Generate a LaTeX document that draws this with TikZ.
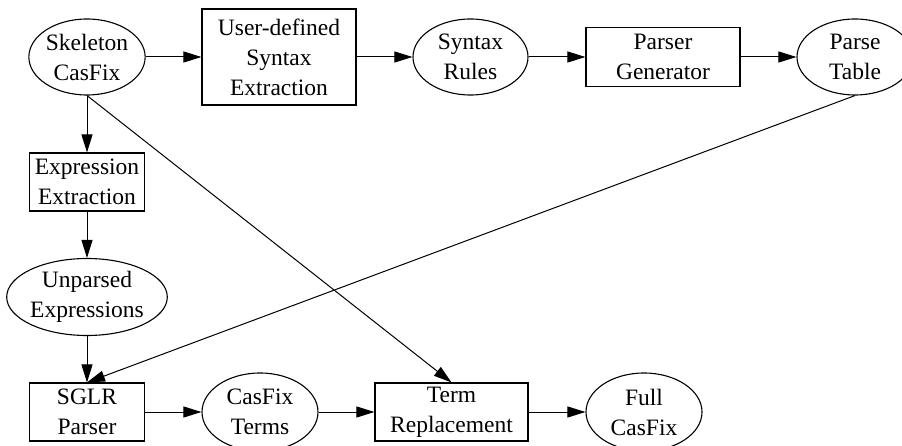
\documentclass[tikz,border=0pt]{standalone}
\usepackage{fontspec}
\setmainfont{Liberation Serif}
\usetikzlibrary{shapes.geometric,arrows.meta}
\tikzset{
  base/.style={draw, line width=1.1pt, inner sep=0pt, align=center,
    font=\fontsize{23.5}{30}\selectfont},
  oval/.style={base, ellipse, minimum width=116pt, minimum height=76pt},
  box/.style={base, rectangle, minimum width=115pt, minimum height=58pt},
  edge/.style={line width=1pt, -{Triangle[length=18pt,width=11pt]}}
}
\begin{document}
\begin{tikzpicture}[x=1pt,y=-1pt]
\useasboundingbox (0,0) rectangle (902,446);
\node[oval] (sk) at (87,57) {Skeleton\\CasFix};
\node[box, minimum width=154pt, minimum height=96pt] (udse) at (279,57) {User-defined\\Syntax\\Extraction};
\node[oval, minimum width=115pt] (sr) at (470.5,57) {Syntax\\Rules};
\node[box, minimum width=154pt, minimum height=59pt] (pg) at (663,57) {Parser\\Generator};
\node[oval] (pt) at (855,57) {Parse\\Table};
\node[box] (ee) at (87,182) {Expression\\Extraction};
\node[oval, minimum width=154pt, minimum height=77pt] (up) at (87,297) {Unparsed\\Expressions};
\node[box] (sglr) at (87,412) {SGLR\\Parser};
\node[oval, minimum height=78pt] (ct) at (260,412) {CasFix\\Terms};
\node[box, minimum width=153pt] (tr) at (451.5,412) {Term\\Replacement};
\node[oval, minimum height=78pt] (fc) at (644,412) {Full\\CasFix};
\draw[edge] (sk) -- (udse);
\draw[edge] (udse) -- (sr);
\draw[edge] (sr) -- (pg);
\draw[edge] (pg) -- (pt);
\draw[edge] (sk) -- (ee);
\draw[edge] (ee) -- (up);
\draw[edge] (up) -- (sglr);
\draw[edge] (sk.south) -- (tr.north);
\draw[edge] (pt.south) -- (sglr.north);
\draw[edge] (sglr) -- (ct);
\draw[edge] (ct) -- (tr);
\draw[edge] (tr) -- (fc);
\end{tikzpicture}
\end{document}
